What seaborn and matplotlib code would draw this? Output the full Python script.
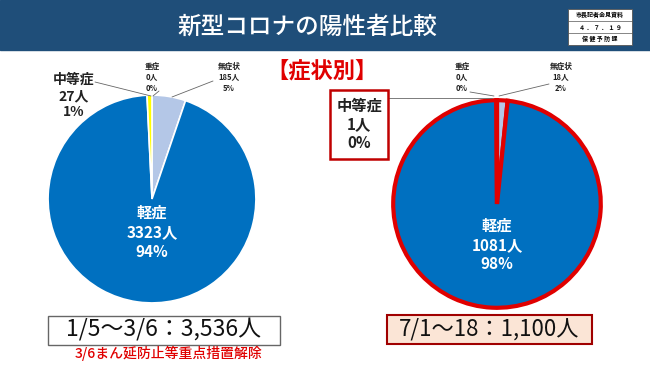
import matplotlib
matplotlib.use("Agg")
import matplotlib.pyplot as plt
import seaborn as sns
from matplotlib.patches import Rectangle

# data
categories = ['重症', '無症状', '軽症', '中等症']
period1_counts = [0, 185, 3323, 27]
period1_pct = ['0%', '5%', '94%', '1%']
period2_counts = [0, 18, 1081, 1]
period2_pct = ['0%', '2%', '98%', '0%']
period1_label = '1/5～3/6：3,536人'
period2_label = '7/1～18：1,100人'
note_text = '3/6まん延防止等重点措置解除'
stamp_rows = ['市長記者会見資料', '４ ． ７ ． １ ９', '保 健 予 防 課']

sns.set_theme(style="white")
plt.rcParams['font.family'] = ['Noto Sans CJK JP', 'DejaVu Sans']

colors = ['#c00000', '#b4c7e7', '#0070c0', '#ffff00']
W, H = 650, 365
fig = plt.figure(figsize=(6.5, 3.65), dpi=100)


def px_axes(x0, y0, w, h):
    return fig.add_axes([x0 / W, 1 - (y0 + h) / H, w / W, h / H])


def fx(x):
    return x / W


def fy(y):
    return 1 - y / H


# header band
fig.patches.append(Rectangle((0, fy(50)), 1, 50 / H, transform=fig.transFigure,
                             color='#1f4e79', zorder=0))
fig.text(fx(307), fy(27), '新型コロナの陽性者比較', color='white', fontsize=17,
         ha='center', va='center', fontweight='medium')
# small stamp box
fig.patches.append(Rectangle((fx(568), fy(45)), 64 / W, 36 / H, transform=fig.transFigure,
                             facecolor='white', edgecolor='#555555', lw=0.6, zorder=1))
for yy in (21, 33):
    fig.lines.append(plt.Line2D([fx(568), fx(632)], [fy(yy), fy(yy)], transform=fig.transFigure,
                                color='#555555', lw=0.5, zorder=2))
for i, t in enumerate(stamp_rows):
    fig.text(fx(600), fy(15 + i * 12), t, fontsize=4.3, ha='center', va='center',
             color='black', fontweight='bold', zorder=3)

# left pie
ax1 = px_axes(152 - 106, 199 - 106, 212, 212)
ax1.pie(period1_counts, colors=colors, startangle=90, counterclock=False, radius=1,
        wedgeprops=dict(edgecolor='white', linewidth=1.2))
ax1.set_xlim(-1.02, 1.02)
ax1.set_ylim(-1.02, 1.02)
ax1.axis('off')
ax1.text(0, -0.32, f"{categories[2]}\n{period1_counts[2]}人\n{period1_pct[2]}", color='white',
         fontsize=11, ha='center', va='center', linespacing=1.25, fontweight='bold')

# right pie
ax2 = px_axes(497 - 107, 204 - 107, 214, 214)
ax2.pie(period2_counts, colors=colors, startangle=90, counterclock=False, radius=0.97,
        wedgeprops=dict(edgecolor='#e00000', linewidth=3))
ax2.set_xlim(-1.0, 1.0)
ax2.set_ylim(-1.0, 1.0)
ax2.axis('off')
ax2.text(0, -0.38, f"{categories[2]}\n{period2_counts[2]}人\n{period2_pct[2]}", color='white',
         fontsize=11, ha='center', va='center', linespacing=1.25, fontweight='bold')

# small outer labels (重症 / 無症状)
def small_label(x, y, name, n, pct):
    fig.text(fx(x), fy(y), f"{name}\n{n}人\n{pct}", fontsize=5.5, ha='center', va='center',
             linespacing=1.3, color='#222222', fontweight='bold')

small_label(152, 77, categories[0], period1_counts[0], period1_pct[0])
small_label(229, 77, categories[1], period1_counts[1], period1_pct[1])
small_label(462, 77, categories[0], period2_counts[0], period2_pct[0])
small_label(561, 77, categories[1], period2_counts[1], period2_pct[1])

line_kw = dict(transform=fig.transFigure, color='#666666', lw=0.6)
fig.lines.append(plt.Line2D([fx(159), fx(153)], [fy(91), fy(96)], **line_kw))
fig.lines.append(plt.Line2D([fx(213), fx(172)], [fy(81), fy(97)], **line_kw))
fig.lines.append(plt.Line2D([fx(95), fx(151)], [fy(82), fy(96)], **line_kw))
fig.lines.append(plt.Line2D([fx(470), fx(494)], [fy(92), fy(96)], **line_kw))
fig.lines.append(plt.Line2D([fx(549), fx(499)], [fy(84), fy(96)], **line_kw))
fig.lines.append(plt.Line2D([fx(388), fx(492)], [fy(98), fy(98)], **line_kw))

# 中等症 labels
fig.text(fx(74), fy(96), f"{categories[3]}\n{period1_counts[3]}人\n{period1_pct[3]}", fontsize=10,
         ha='center', va='center', linespacing=1.2, fontweight='bold', color='#222222')
fig.patches.append(Rectangle((fx(330), fy(159)), 58 / W, 69 / H, transform=fig.transFigure,
                             facecolor='white', edgecolor='#c00000', lw=1.8, zorder=2))
fig.text(fx(359), fy(124), f"{categories[3]}\n{period2_counts[3]}人\n{period2_pct[3]}", fontsize=11,
         ha='center', va='center', linespacing=1.2, fontweight='bold', color='#222222', zorder=3)

# section title
fig.text(fx(322), fy(72), '【症状別】', color='#e00000', fontsize=16, ha='center', va='center',
         fontweight='bold')

# bottom boxes
fig.patches.append(Rectangle((fx(48), fy(345)), 232 / W, 29 / H, transform=fig.transFigure,
                             facecolor='white', edgecolor='#666666', lw=1.0))
fig.text(fx(164), fy(330), period1_label, fontsize=16.5, ha='center', va='center', color='#111111')
fig.text(fx(169), fy(353), note_text, fontsize=10, ha='center', va='center', color='#e00000',
         fontweight='medium')
fig.patches.append(Rectangle((fx(387), fy(344)), 205 / W, 29 / H, transform=fig.transFigure,
                             facecolor='#fbe5d6', edgecolor='#a00000', lw=1.5))
fig.text(fx(489), fy(329), period2_label, fontsize=16, ha='center', va='center', color='#111111')

fig.savefig('out.png', dpi=100)
